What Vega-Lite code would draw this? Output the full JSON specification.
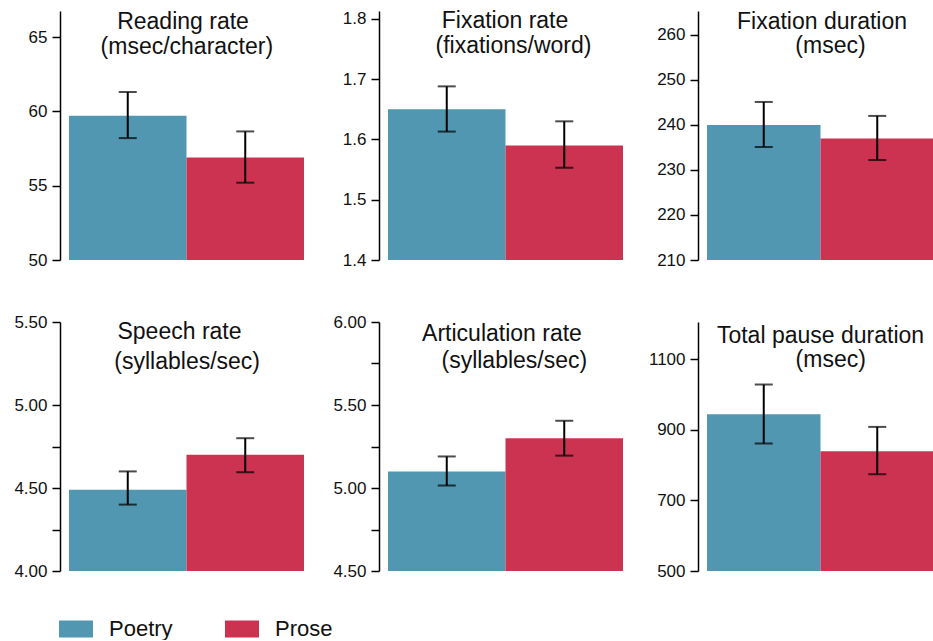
{
  "$schema": "https://vega.github.io/schema/vega-lite/v6.json",
  "background": "white",
  "padding": {"left": 13, "top": 9, "right": 0, "bottom": 0},
  "config": {
    "font": "Liberation Sans",
    "view": {"stroke": null},
    "axis": {"domainColor": "black", "domainWidth": 1.5, "tickColor": "black", "tickWidth": 1.5, "tickSize": 8, "labelFontSize": 17, "labelColor": "#111111", "labelPadding": 5, "offset": 9, "grid": false, "labelFont": "Liberation Sans"},
    "title": {"font": "Liberation Sans", "fontSize": 23, "fontWeight": "normal", "color": "#111111", "anchor": "middle", "frame": "group", "baseline": "top"},
    "tick": {"color": "black", "thickness": 2},
    "rule": {"color": "black", "strokeWidth": 2}
  },
  "columns": 3,
  "bounds": "flush",
  "spacing": {"row": 62, "column": 84},
  "resolve": {"scale": {"color": "shared"}, "legend": {"color": "shared"}},
  "concat": [
    {
      "width": 235, "height": 249,
      "title": {"text": ["Reading rate", "\u200b\u2004(msec/character)"], "dx": -3.5, "lineHeight": 24.6, "offset": -48},
      "data": {"values": [
        {"group": "Poetry", "mean": 59.7, "lo": 58.2, "hi": 61.3},
        {"group": "Prose", "mean": 56.9, "lo": 55.2, "hi": 58.65}
      ]},
      "encoding": {"x": {"field": "group", "type": "nominal", "scale": {"paddingInner": 0, "paddingOuter": 0}, "axis": null}},
      "layer": [
        {"mark": {"type": "bar", "clip": true}, "encoding": {
          "y": {"field": "mean", "type": "quantitative", "title": null, "scale": {"domain": [50, 66.75], "nice": false, "zero": false}, "axis": {"values": [50, 55, 60, 65], "format": "d", "title": null}},
          "color": {"field": "group", "type": "nominal", "scale": {"domain": ["Poetry", "Prose"], "range": ["#5197b2", "#cc3350"]},
            "legend": {"title": null, "orient": "none", "direction": "horizontal", "legendX": -10, "legendY": 601, "symbolType": "M-1,-0.5H1V0.5H-1Z", "symbolSize": 1156, "symbolStrokeWidth": 0, "symbolOpacity": 1, "labelFontSize": 22, "labelFont": "Liberation Sans", "labelColor": "#111111", "labelOffset": 16, "columnPadding": 52}}
        }},
        {"mark": {"type": "rule"}, "encoding": {"y": {"field": "lo", "type": "quantitative", "title": null}, "y2": {"field": "hi"}}},
        {"mark": {"type": "tick", "size": 18}, "encoding": {"y": {"field": "lo", "type": "quantitative", "title": null}}},
        {"mark": {"type": "tick", "size": 18}, "encoding": {"y": {"field": "hi", "type": "quantitative", "title": null}}}
      ]
    },
    {
      "width": 235, "height": 249,
      "title": {"text": ["Fixation rate", "\u2800(fixations/word)"], "dx": -0.5, "lineHeight": 24.7, "offset": -48},
      "data": {"values": [
        {"group": "Poetry", "mean": 1.65, "lo": 1.613, "hi": 1.688},
        {"group": "Prose", "mean": 1.59, "lo": 1.553, "hi": 1.63}
      ]},
      "encoding": {"x": {"field": "group", "type": "nominal", "scale": {"paddingInner": 0, "paddingOuter": 0}, "axis": null}},
      "layer": [
        {"mark": {"type": "bar", "clip": true}, "encoding": {
          "y": {"field": "mean", "type": "quantitative", "title": null, "scale": {"domain": [1.4, 1.813], "nice": false, "zero": false}, "axis": {"values": [1.4, 1.5, 1.6, 1.7, 1.8], "format": ".1f", "title": null}},
          "color": {"field": "group", "type": "nominal", "scale": {"domain": ["Poetry", "Prose"], "range": ["#5197b2", "#cc3350"]}}
        }},
        {"mark": {"type": "rule"}, "encoding": {"y": {"field": "lo", "type": "quantitative", "title": null}, "y2": {"field": "hi"}}},
        {"mark": {"type": "tick", "size": 18}, "encoding": {"y": {"field": "lo", "type": "quantitative", "title": null}}},
        {"mark": {"type": "tick", "size": 18}, "encoding": {"y": {"field": "hi", "type": "quantitative", "title": null}}}
      ]
    },
    {
      "width": 227, "height": 249,
      "title": {"text": ["Fixation duration", "\u2800(msec)"], "dx": 1.5, "lineHeight": 24, "offset": -47},
      "data": {"values": [
        {"group": "Poetry", "mean": 240, "lo": 235.1, "hi": 245.1},
        {"group": "Prose", "mean": 237, "lo": 232.2, "hi": 242}
      ]},
      "encoding": {"x": {"field": "group", "type": "nominal", "scale": {"paddingInner": 0, "paddingOuter": 0}, "axis": null}},
      "layer": [
        {"mark": {"type": "bar", "clip": true}, "encoding": {
          "y": {"field": "mean", "type": "quantitative", "title": null, "scale": {"domain": [210, 265.3], "nice": false, "zero": false}, "axis": {"values": [210, 220, 230, 240, 250, 260], "format": "d", "title": null}},
          "color": {"field": "group", "type": "nominal", "scale": {"domain": ["Poetry", "Prose"], "range": ["#5197b2", "#cc3350"]}}
        }},
        {"mark": {"type": "rule"}, "encoding": {"y": {"field": "lo", "type": "quantitative", "title": null}, "y2": {"field": "hi"}}},
        {"mark": {"type": "tick", "size": 18}, "encoding": {"y": {"field": "lo", "type": "quantitative", "title": null}}},
        {"mark": {"type": "tick", "size": 18}, "encoding": {"y": {"field": "hi", "type": "quantitative", "title": null}}}
      ]
    },
    {
      "width": 235, "height": 249,
      "title": {"text": ["Speech rate", "\u200b\u2004\u2004(syllables/sec)"], "dx": -7, "lineHeight": 30, "offset": -61},
      "data": {"values": [
        {"group": "Poetry", "mean": 4.49, "lo": 4.4, "hi": 4.6},
        {"group": "Prose", "mean": 4.7, "lo": 4.595, "hi": 4.8}
      ]},
      "encoding": {"x": {"field": "group", "type": "nominal", "scale": {"paddingInner": 0, "paddingOuter": 0}, "axis": null}},
      "layer": [
        {"mark": {"type": "bar", "clip": true}, "encoding": {
          "y": {"field": "mean", "type": "quantitative", "title": null, "scale": {"domain": [4, 5.5], "nice": false, "zero": false}, "axis": {"values": [4, 4.25, 4.5, 4.75, 5, 5.5], "labelExpr": "(datum.value * 4) % 2 == 0 ? format(datum.value, '.2f') : ''", "title": null}},
          "color": {"field": "group", "type": "nominal", "scale": {"domain": ["Poetry", "Prose"], "range": ["#5197b2", "#cc3350"]}}
        }},
        {"mark": {"type": "rule"}, "encoding": {"y": {"field": "lo", "type": "quantitative", "title": null}, "y2": {"field": "hi"}}},
        {"mark": {"type": "tick", "size": 18}, "encoding": {"y": {"field": "lo", "type": "quantitative", "title": null}}},
        {"mark": {"type": "tick", "size": 18}, "encoding": {"y": {"field": "hi", "type": "quantitative", "title": null}}}
      ]
    },
    {
      "width": 235, "height": 249,
      "title": {"text": ["Articulation rate", "\u2800\u2004(syllables/sec)"], "dx": -3.5, "lineHeight": 27, "offset": -60},
      "data": {"values": [
        {"group": "Poetry", "mean": 5.1, "lo": 5.015, "hi": 5.19},
        {"group": "Prose", "mean": 5.3, "lo": 5.195, "hi": 5.405}
      ]},
      "encoding": {"x": {"field": "group", "type": "nominal", "scale": {"paddingInner": 0, "paddingOuter": 0}, "axis": null}},
      "layer": [
        {"mark": {"type": "bar", "clip": true}, "encoding": {
          "y": {"field": "mean", "type": "quantitative", "title": null, "scale": {"domain": [4.5, 6], "nice": false, "zero": false}, "axis": {"values": [4.5, 4.75, 5, 5.25, 5.5, 5.75, 6], "labelExpr": "(datum.value * 4) % 2 == 0 ? format(datum.value, '.2f') : ''", "title": null}},
          "color": {"field": "group", "type": "nominal", "scale": {"domain": ["Poetry", "Prose"], "range": ["#5197b2", "#cc3350"]}}
        }},
        {"mark": {"type": "rule"}, "encoding": {"y": {"field": "lo", "type": "quantitative", "title": null}, "y2": {"field": "hi"}}},
        {"mark": {"type": "tick", "size": 18}, "encoding": {"y": {"field": "lo", "type": "quantitative", "title": null}}},
        {"mark": {"type": "tick", "size": 18}, "encoding": {"y": {"field": "hi", "type": "quantitative", "title": null}}}
      ]
    },
    {
      "width": 227, "height": 249,
      "title": {"text": ["Total pause duration", "\u200b\u2007\u2004(msec)"], "dx": 0, "lineHeight": 24, "offset": -50},
      "data": {"values": [
        {"group": "Poetry", "mean": 944, "lo": 861, "hi": 1028},
        {"group": "Prose", "mean": 839, "lo": 774, "hi": 908}
      ]},
      "encoding": {"x": {"field": "group", "type": "nominal", "scale": {"paddingInner": 0, "paddingOuter": 0}, "axis": null}},
      "layer": [
        {"mark": {"type": "bar", "clip": true}, "encoding": {
          "y": {"field": "mean", "type": "quantitative", "title": null, "scale": {"domain": [500, 1205], "nice": false, "zero": false}, "axis": {"values": [500, 700, 900, 1100], "format": "d", "title": null}},
          "color": {"field": "group", "type": "nominal", "scale": {"domain": ["Poetry", "Prose"], "range": ["#5197b2", "#cc3350"]}}
        }},
        {"mark": {"type": "rule"}, "encoding": {"y": {"field": "lo", "type": "quantitative", "title": null}, "y2": {"field": "hi"}}},
        {"mark": {"type": "tick", "size": 18}, "encoding": {"y": {"field": "lo", "type": "quantitative", "title": null}}},
        {"mark": {"type": "tick", "size": 18}, "encoding": {"y": {"field": "hi", "type": "quantitative", "title": null}}}
      ]
    }
  ]
}
